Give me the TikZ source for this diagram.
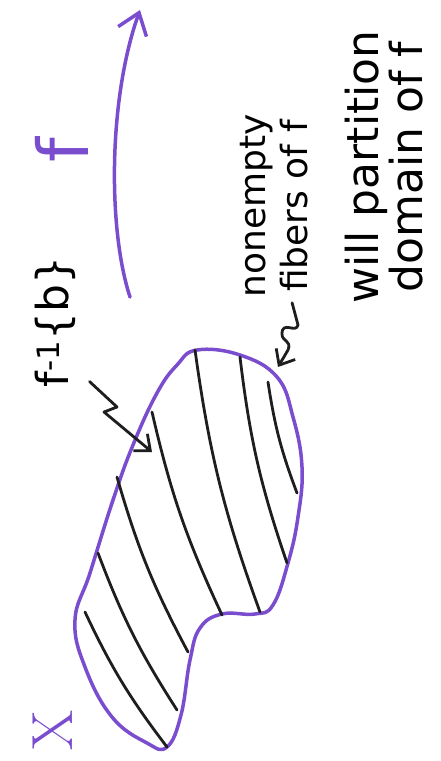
\documentclass[tikz,border=0pt]{standalone}
\usepackage{fontspec}
\newfontfamily\hand{DejaVu Sans}
\usetikzlibrary{arrows.meta}
\definecolor{lila}{RGB}{122,76,206}
\definecolor{stift}{RGB}{30,30,30}
\begin{document}
\begin{tikzpicture}[x=1pt, y=-1pt,
	rand/.style={draw=lila, line width=3.5pt, line join=round},
	faser/.style={stift, line width=2.8pt, line cap=round},
	pfeil/.style={stift, line width=2.8pt, line cap=round, line join=round,
		-{Straight Barb[length=13pt, width=22pt, line width=2.8pt]}},
	beschr/.style={rotate=90, inner sep=0pt, font=\hand}]
	\useasboundingbox (0,0) rectangle (441,761);
	% Abbildung f
	\coordinate (fu) at (130,297);
	\coordinate (fo) at (140,10);
	\draw[lila, line width=3.5pt, line cap=round, line join=round,
		-{Straight Barb[length=20pt, width=30pt, line width=3.5pt]}]
		(fu) .. controls (108,230) and (108,100) .. (fo);
	\node[beschr, text=lila, font=\hand\fontsize{70}{70}\selectfont] (f) at (62,150) {f};

	% Menge X
	\draw[rand] plot[smooth cycle, tension=0.7] coordinates {(197,350) (240,355) (277,377)
		(293,417) (302,467) (298,517) (288,563) (273,605) (255,614) (222,614) (200,628)
		(190,660) (181,715) (167,747) (147,743) (112,717) (85,667) (75,620) (90,573)
		(113,500) (133,445) (157,393) (177,365)};
	\node[beschr, text=lila, font=\fontsize{58}{58}\selectfont] (X) at (53,730) {X};

	% Fasern
	\foreach \xa/\ya/\xb/\yb in {268/382/297/493, 240/357/287/563, 195/350/260/612,
		152/412/222/615, 117/477/188/652, 98/553/177/710, 85/612/167/747}
		\draw[faser] (\xa,\ya) to[bend right=6] (\xb,\yb);

	% Beschriftungen
	\node[beschr, align=center, font=\hand\fontsize{36}{42}\selectfont] (fib) at (274,206)
		{nonempty\\fibers of f};
	\node[beschr, align=center, font=\hand\fontsize{44}{44}\selectfont] (part) at (384,167)
		{will partition\\domain of f};
	\node[beschr, font=\hand\fontsize{44}{44}\selectfont] (inv) at (55,322)
		{f\textsuperscript{-1}\{b\}};

	% Pfeile
	\coordinate (fasertip) at (278,367);
	\coordinate (invtip) at (152,452);
	\draw[pfeil] ([xshift=-16pt,yshift=-5pt]fib.south west) -- (298,325)
		.. controls (296,334) and (282,320) .. (282,334)
		.. controls (282,342) and (292,340) .. (288,350) -- (fasertip);
	\draw[pfeil] ([xshift=14pt,yshift=6pt]inv.south west) -- (117,407) -- (104,412) -- (invtip);
\end{tikzpicture}
\end{document}
